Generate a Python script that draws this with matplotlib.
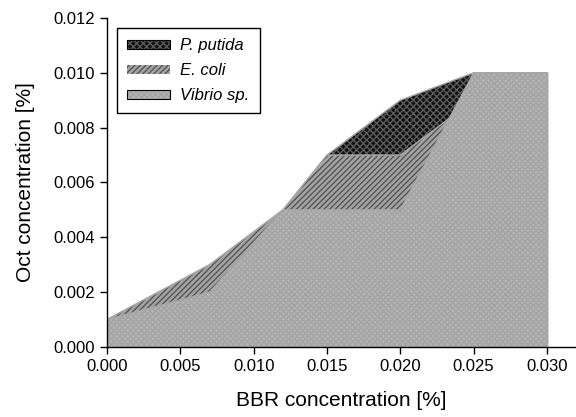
import matplotlib
matplotlib.use('Agg')
import matplotlib.pyplot as plt
import matplotlib.patches as mpatches
from matplotlib.legend_handler import HandlerTuple

plt.rcParams['font.family'] = ['Liberation Sans', 'DejaVu Sans']
plt.rcParams['hatch.linewidth'] = 1.0

# BBR concentration [%] and top edge of each area (Oct concentration [%])
bbr_putida = [0.0, 0.007, 0.012, 0.015, 0.020, 0.025, 0.030]
oct_putida = [0.001, 0.003, 0.005, 0.007, 0.009, 0.010, 0.010]

bbr_ecoli = [0.0, 0.007, 0.012, 0.015, 0.020, 0.025, 0.030]
oct_ecoli = [0.001, 0.003, 0.005, 0.007, 0.007, 0.009, 0.010]

bbr_vibrio = [0.0, 0.007, 0.012, 0.015, 0.020, 0.025, 0.030]
oct_vibrio = [0.001, 0.002, 0.005, 0.005, 0.005, 0.010, 0.010]

labels = ['P. putida', 'E. coli', 'Vibrio sp.']
xticks = [0.000, 0.005, 0.010, 0.015, 0.020, 0.025, 0.030]
yticks = [0.000, 0.002, 0.004, 0.006, 0.008, 0.010, 0.012]

styles = [
    dict(facecolor='#111111', hatch='xxxxx', edgecolor='#5c5c5c'),
    dict(facecolor='#a4a4a4', hatch='//////', edgecolor='#555555'),
    dict(facecolor='#b4b4b4', hatch='xxxxxx', edgecolor='#a4a4a4'),
]
series = [(bbr_putida, oct_putida), (bbr_ecoli, oct_ecoli), (bbr_vibrio, oct_vibrio)]

fig = plt.figure(figsize=(5.76, 4.17), dpi=100)
ax = fig.add_axes([0.1858, 0.1679, 0.8122, 0.789])

handles = []
for i, ((x, y), st) in enumerate(zip(series, styles)):
    ax.fill_between(x, 0, y, linewidth=0, zorder=i + 1, **st)
    ax.plot(x, y, color='#a8a8a8', lw=1, zorder=i + 1.5)
    ax.plot([x[-1], x[-1]], [0, y[-1]], color='#a8a8a8', lw=1, zorder=i + 1.5)
    fill = mpatches.Patch(linewidth=0, **st)
    if i == 1:
        handles.append(fill)
    else:
        frame = mpatches.Patch(facecolor='none', edgecolor='black', linewidth=0.8)
        handles.append((fill, frame))

ax.set_xlim(0, 0.0319)
ax.set_ylim(0, 0.012)
ax.set_xticks(xticks)
ax.set_yticks(yticks)
ax.set_xticklabels([f'{v:.3f}' for v in xticks])
ax.set_yticklabels([f'{v:.3f}' for v in yticks])
ax.tick_params(direction='out', length=5, width=1, labelsize=12, pad=4)

for s in ['top', 'right']:
    ax.spines[s].set_visible(False)
for s in ['left', 'bottom']:
    ax.spines[s].set_linewidth(1)
    ax.spines[s].set_zorder(10)

ax.set_xlabel('BBR concentration [%]', fontsize=15, labelpad=12)
ax.set_ylabel('Oct concentration [%]', fontsize=15, labelpad=13)

leg = ax.legend(handles, labels, loc='upper left', bbox_to_anchor=(0.0, 1.0),
                prop={'style': 'italic', 'size': 12}, fancybox=False,
                edgecolor='black', framealpha=1, handlelength=2.6, handleheight=0.45,
                handletextpad=0.6, labelspacing=0.6, borderpad=0.6, borderaxespad=0.6,
                handler_map={tuple: HandlerTuple(ndivide=1, pad=0)})
leg.get_frame().set_linewidth(1)
leg.set_zorder(20)

fig.savefig('out.png', dpi=100)
